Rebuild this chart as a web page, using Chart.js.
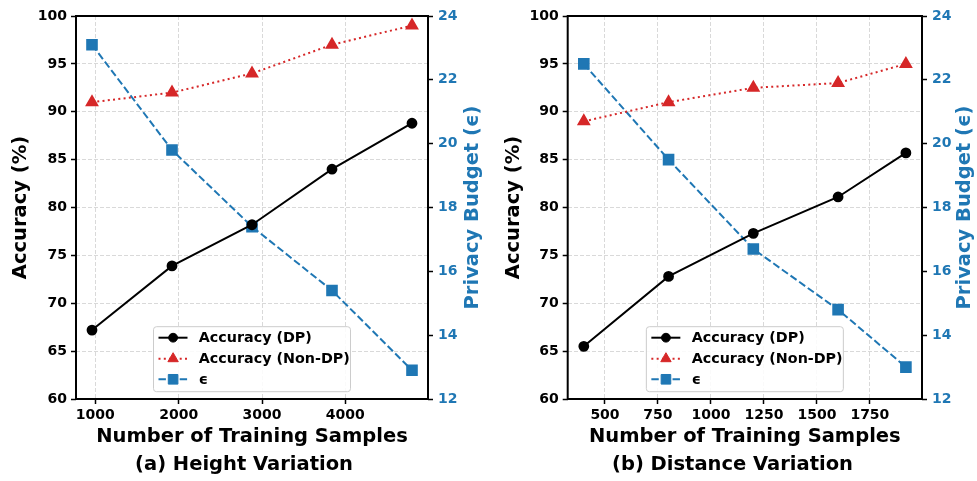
<!DOCTYPE html>
<html>
<head>
<meta charset="utf-8">
<script src="https://cdn.jsdelivr.net/npm/chart.js@4.4.0/dist/chart.umd.min.js"></script>
<style>
  body { margin: 0; background: #fff; }
  #wrap { display: flex; width: 977px; height: 481px; }
  canvas { display: block; }
</style>
</head>
<body>
<div id="wrap">
  <canvas id="chart_a" width="488" height="481"></canvas>
  <canvas id="chart_b" width="489" height="481"></canvas>
</div>
<script>
const FONT = "'DejaVu Sans', sans-serif";
const BLUE = '#1f77b4';
const RED = '#d62728';

const seriesLabels = ['Accuracy (DP)', 'Accuracy (Non-DP)', 'ϵ'];
const accTicks = [60, 65, 70, 75, 80, 85, 90, 95, 100];
const epsTicks = [12, 14, 16, 18, 20, 22, 24];

// (a) Height Variation
const samplesA = [960, 1920, 2880, 3840, 4800];
const accDpA = [67.2, 73.9, 78.2, 84.0, 88.8];
const accNonDpA = [91, 92, 94, 97, 99];
const epsA = [23.1, 19.8, 17.4, 15.4, 12.9];
const xTicksA = [1000, 2000, 3000, 4000];

// (b) Distance Variation
const samplesB = [400, 800, 1200, 1600, 1920];
const accDpB = [65.5, 72.8, 77.3, 81.1, 85.7];
const accNonDpB = [89, 91, 92.5, 93, 95];
const epsB = [22.5, 19.5, 16.7, 14.8, 13.0];
const xTicksB = [500, 750, 1000, 1250, 1500, 1750];

const toPoints = (xs, ys) => xs.map((x, i) => ({ x: x, y: ys[i] }));

// frame, right-hand axis title and the boxed legend
const decorPlugin = {
  id: 'decor',
  afterDraw(chart, args, opts) {
    const ctx = chart.ctx;
    const a = chart.chartArea;

    ctx.save();
    ctx.strokeStyle = '#000';
    ctx.lineWidth = 2;
    ctx.strokeRect(a.left, a.top, a.right - a.left, a.bottom - a.top);

    // right title, reads bottom to top like the left one
    ctx.translate(opts.rightTitleX, (a.top + a.bottom) / 2);
    ctx.rotate(-Math.PI / 2);
    ctx.fillStyle = BLUE;
    ctx.font = 'bold 19.5px ' + FONT;
    ctx.textAlign = 'center';
    ctx.textBaseline = 'middle';
    ctx.fillText('Privacy Budget (ϵ)', 0, 0);
    ctx.restore();

    // legend box, lower center
    const w = 197, h = 65;
    const bx = (a.left + a.right) / 2 - w / 2;
    const by = a.bottom - 7.3 - h;
    ctx.save();
    ctx.fillStyle = 'rgba(255,255,255,0.85)';
    ctx.strokeStyle = '#cccccc';
    ctx.lineWidth = 1;
    ctx.beginPath();
    ctx.roundRect(bx, by, w, h, 3);
    ctx.fill();
    ctx.stroke();

    const rows = [11, 32, 52.6];
    chart.data.datasets.forEach((ds, i) => {
      const y = by + rows[i];
      ctx.save();
      ctx.strokeStyle = ds.borderColor;
      ctx.lineWidth = ds.borderWidth;
      ctx.setLineDash(ds.borderDash || []);
      ctx.beginPath();
      ctx.moveTo(bx + 5, y);
      ctx.lineTo(bx + 34, y);
      ctx.stroke();
      ctx.restore();
      ctx.fillStyle = ds.pointBackgroundColor;
      ctx.strokeStyle = ds.pointBorderColor;
      ctx.lineWidth = 1;
      Chart.helpers.drawPoint(ctx, { pointStyle: ds.pointStyle, rotation: 0, radius: ds.pointRadius, borderWidth: 1 }, bx + 19.6, y);
      ctx.fillStyle = '#000';
      ctx.font = 'bold 14.3px ' + FONT;
      ctx.textAlign = 'left';
      ctx.textBaseline = 'middle';
      ctx.fillText(ds.label, bx + 45.3, y + 1);
    });
    ctx.restore();
  }
};

function makeChart(id, c) {
  const span = c.xs[c.xs.length - 1] - c.xs[0];
  return new Chart(document.getElementById(id), {
    type: 'line',
    data: {
      datasets: [
        {
          label: seriesLabels[0], data: toPoints(c.xs, c.dp), yAxisID: 'y',
          borderColor: '#000', borderWidth: 2, borderDash: [],
          pointStyle: 'circle', pointRadius: 4.4,
          pointBackgroundColor: '#000', pointBorderColor: '#000'
        },
        {
          label: seriesLabels[1], data: toPoints(c.xs, c.nondp), yAxisID: 'y',
          borderColor: RED, borderWidth: 2, borderDash: [2, 3.3],
          pointStyle: 'triangle', pointRadius: 6,
          pointBackgroundColor: RED, pointBorderColor: RED
        },
        {
          label: seriesLabels[2], data: toPoints(c.xs, c.eps), yAxisID: 'y2',
          borderColor: BLUE, borderWidth: 2, borderDash: [7.4, 3.2],
          pointStyle: 'rect', pointRadius: 6.8,
          pointBackgroundColor: BLUE, pointBorderColor: BLUE
        }
      ]
    },
    options: {
      responsive: false,
      animation: false,
      devicePixelRatio: 1,
      layout: { padding: { top: 16, bottom: 4.7, left: 0, right: 0 } },
      elements: { line: { tension: 0 }, point: { borderWidth: 1 } },
      plugins: {
        legend: { display: false },
        tooltip: { enabled: false },
        title: {
          display: true, position: 'bottom', text: c.caption, color: '#000',
          font: { family: FONT, size: 19.5, weight: 'bold' }, padding: { top: 0, bottom: 0 }
        },
        decor: { rightTitleX: c.rightTitleX }
      },
      scales: {
        x: {
          type: 'linear',
          min: c.xs[0] - 0.05 * span,
          max: c.xs[c.xs.length - 1] + 0.05 * span,
          afterBuildTicks: s => { s.ticks = c.xTicks.map(v => ({ value: v })); },
          afterFit: s => { s.height = 53.9; },
          ticks: {
            autoSkip: false, maxRotation: 0, padding: 3, color: '#000',
            font: { family: FONT, size: 14, weight: 'bold' },
            callback: v => String(v)
          },
          grid: { color: 'rgba(0,0,0,0.15)', lineWidth: 1, tickLength: 5, tickColor: '#000', tickWidth: 1.5, tickBorderDash: [] },
          border: { display: false, dash: [4, 2] },
          title: {
            display: true, text: 'Number of Training Samples', color: '#000',
            font: { family: FONT, size: 19.5, weight: 'bold' }, padding: { top: 0, bottom: 4.6 }
          }
        },
        y: {
          position: 'left', min: 60, max: 100,
          afterBuildTicks: s => { s.ticks = accTicks.map(v => ({ value: v })); },
          afterFit: s => { s.width = c.leftWidth; },
          ticks: { padding: 4, color: '#000', font: { family: FONT, size: 14, weight: 'bold' } },
          grid: { color: 'rgba(0,0,0,0.15)', lineWidth: 1, tickLength: 5, tickColor: '#000', tickWidth: 1.5, tickBorderDash: [] },
          border: { display: false, dash: [4, 2] },
          title: {
            display: true, text: 'Accuracy (%)', color: '#000',
            font: { family: FONT, size: 19.5, weight: 'bold' }, padding: { top: c.leftTitlePad, bottom: 0 }
          }
        },
        y2: {
          position: 'right', min: 12, max: 24,
          afterBuildTicks: s => { s.ticks = epsTicks.map(v => ({ value: v })); },
          afterFit: s => { s.width = c.rightWidth; },
          ticks: { padding: 5, color: BLUE, font: { family: FONT, size: 14, weight: 'bold' } },
          grid: { drawOnChartArea: false, tickLength: 5, tickColor: '#000', tickWidth: 1.5, tickBorderDash: [] },
          border: { display: false }
        }
      }
    },
    plugins: [decorPlugin]
  });
}

makeChart('chart_a', {
  xs: samplesA, dp: accDpA, nondp: accNonDpA, eps: epsA, xTicks: xTicksA,
  caption: '(a) Height Variation',
  leftWidth: 76, rightWidth: 60, leftTitlePad: 9.6, rightTitleX: 472.7
});

makeChart('chart_b', {
  xs: samplesB, dp: accDpB, nondp: accNonDpB, eps: epsB, xTicks: xTicksB,
  caption: '(b) Distance Variation',
  leftWidth: 79.7, rightWidth: 55, leftTitlePad: 14.6, rightTitleX: 477
});
</script>
</body>
</html>
